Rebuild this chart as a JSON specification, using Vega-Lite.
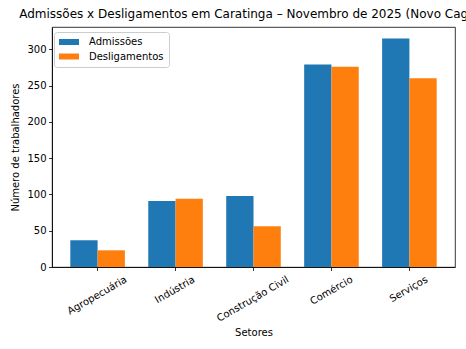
{
  "$schema": "https://vega.github.io/schema/vega-lite/v6.json",
  "autosize": {"type": "none"},
  "width": 403,
  "height": 240,
  "padding": {"left": 52, "top": 27, "right": 11, "bottom": 82},
  "title": {
    "text": "Admissões x Desligamentos em Caratinga – Novembro de 2025 (Novo Caged)",
    "font": "DejaVu Sans",
    "fontSize": 12,
    "fontWeight": "normal",
    "color": "black",
    "anchor": "middle",
    "offset": 6
  },
  "data": {
    "values": [
      {"setor": "Agropecuária", "tipo": "Admissões", "valor": 37},
      {"setor": "Agropecuária", "tipo": "Desligamentos", "valor": 23},
      {"setor": "Indústria", "tipo": "Admissões", "valor": 91},
      {"setor": "Indústria", "tipo": "Desligamentos", "valor": 94},
      {"setor": "Construção Civil", "tipo": "Admissões", "valor": 98},
      {"setor": "Construção Civil", "tipo": "Desligamentos", "valor": 56},
      {"setor": "Comércio", "tipo": "Admissões", "valor": 279},
      {"setor": "Comércio", "tipo": "Desligamentos", "valor": 276},
      {"setor": "Serviços", "tipo": "Admissões", "valor": 315},
      {"setor": "Serviços", "tipo": "Desligamentos", "valor": 260}
    ]
  },
  "mark": {"type": "bar"},
  "encoding": {
    "x": {
      "field": "setor",
      "type": "nominal",
      "sort": ["Agropecuária", "Indústria", "Construção Civil", "Comércio", "Serviços"],
      "scale": {"paddingInner": 0.3, "paddingOuter": 0.235},
      "axis": {
        "title": "Setores",
        "labelAngle": -30,
        "labelAlign": "right",
        "labelBaseline": "top",
        "labelPadding": 3.5,
        "labelOffset": {
          "condition": [
            {"test": "datum.value === 'Agropecuária'", "value": 26},
            {"test": "datum.value === 'Indústria'", "value": 16},
            {"test": "datum.value === 'Construção Civil'", "value": 32},
            {"test": "datum.value === 'Comércio'", "value": 18}
          ],
          "value": 15
        },
        "titlePadding": 4
      }
    },
    "xOffset": {"field": "tipo", "type": "nominal", "scale": {"paddingInner": 0, "paddingOuter": 0}},
    "y": {
      "field": "valor",
      "type": "quantitative",
      "scale": {"domain": [0, 330.75], "nice": false},
      "axis": {
        "title": "Número de trabalhadores",
        "values": [0, 50, 100, 150, 200, 250, 300],
        "labelPadding": 2.5,
        "titlePadding": 6
      }
    },
    "color": {
      "field": "tipo",
      "type": "nominal",
      "scale": {"domain": ["Admissões", "Desligamentos"], "range": ["#1f77b4", "#ff7f0e"]},
      "legend": {
        "title": null,
        "orient": "none",
        "legendX": 2,
        "legendY": 5,
        "symbolType": "M-2.5,-0.75H2.5V0.75H-2.5Z",
        "symbolSize": 64,
        "symbolOffset": 5,
        "symbolStrokeWidth": 0,
        "symbolOpacity": 1,
        "labelFont": "DejaVu Sans",
        "labelFontSize": 10,
        "labelColor": "black",
        "labelOffset": 15,
        "rowPadding": 4.5,
        "padding": 5,
        "strokeColor": "#cccccc",
        "fillColor": "rgba(255,255,255,0.8)",
        "cornerRadius": 3
      }
    }
  },
  "config": {
    "font": "DejaVu Sans",
    "view": {"stroke": "black", "strokeWidth": 0.8},
    "axis": {
      "grid": false,
      "domainColor": "black",
      "domainWidth": 0.8,
      "tickColor": "black",
      "tickWidth": 0.8,
      "tickSize": 3.5,
      "labelFont": "DejaVu Sans",
      "labelFontSize": 10,
      "labelColor": "black",
      "titleFont": "DejaVu Sans",
      "titleFontSize": 10,
      "titleFontWeight": "normal",
      "titleColor": "black"
    }
  }
}
